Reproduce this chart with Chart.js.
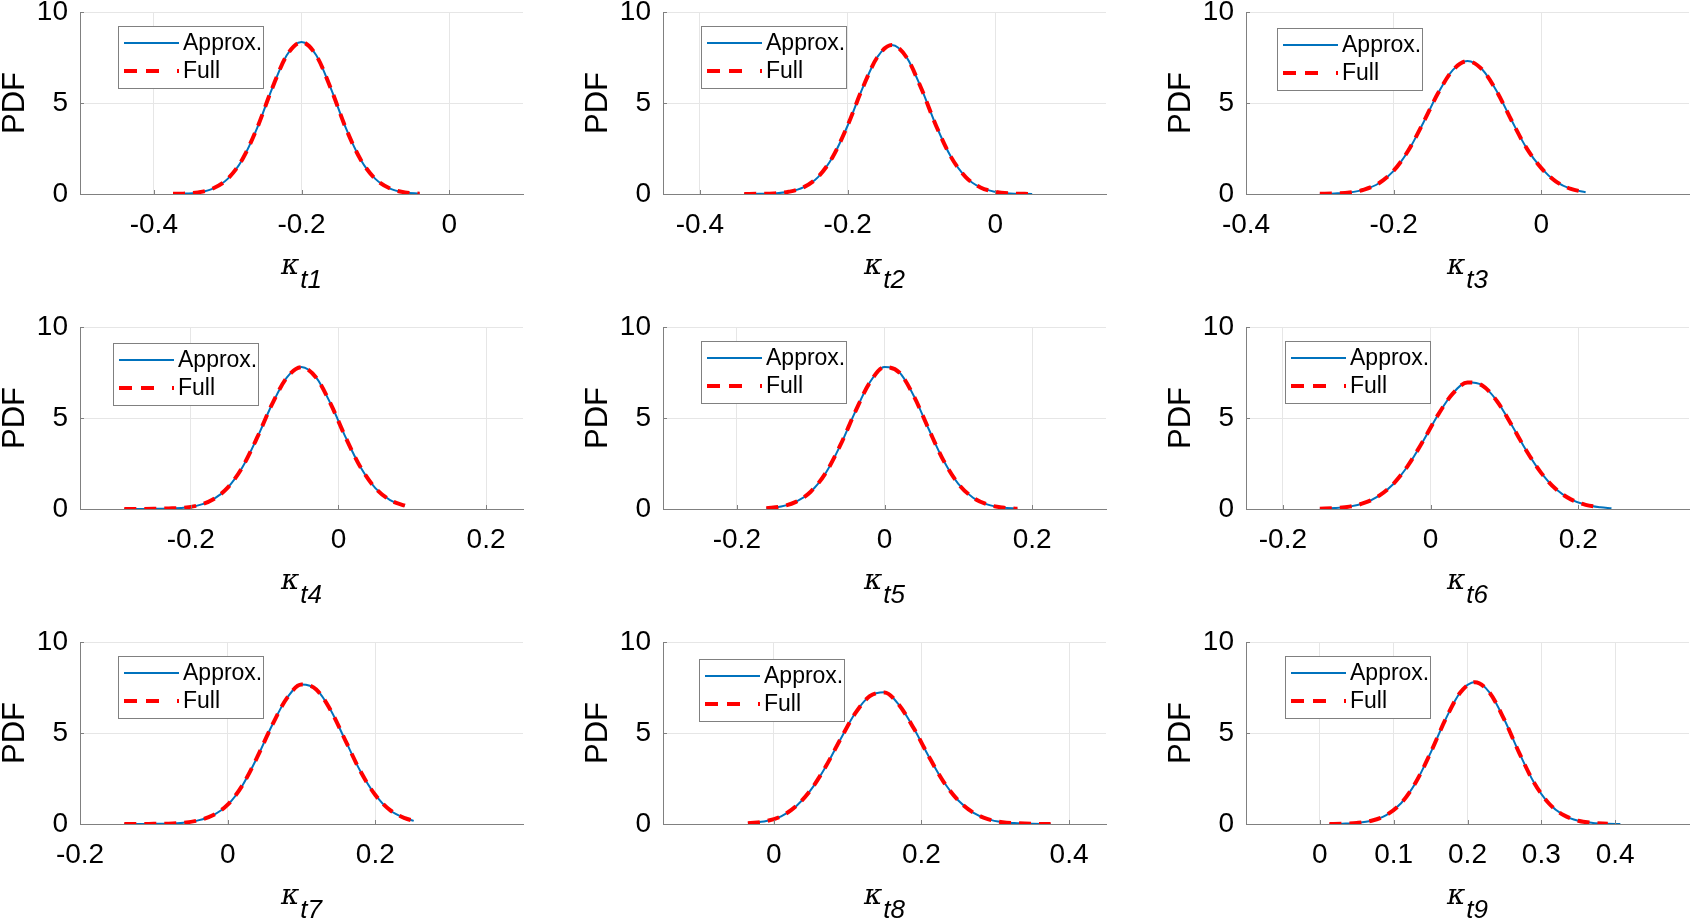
<!DOCTYPE html>
<html>
<head>
<meta charset="utf-8">
<title>PDF of kappa_t</title>
<script src="https://cdn.jsdelivr.net/npm/chart.js@4.4.1/dist/chart.umd.min.js"></script>
<style>
    html, body { margin: 0; padding: 0; background: #fff; overflow: hidden; }
    body { width: 1693px; height: 921px; position: relative; }
    canvas { position: absolute; }
</style>
</head>
<body>
<script>
// series names and axis labels
const seriesNames = ["Approx.", "Full"];
const yLabel = "PDF";
const subscripts = ["t1", "t2", "t3", "t4", "t5", "t6", "t7", "t8", "t9"];

// x limits and tick values of each panel
const xLimits = [
    [-0.5, 0.1], [-0.45, 0.15], [-0.4, 0.2],
    [-0.35, 0.25], [-0.3, 0.3], [-0.25, 0.35],
    [-0.2, 0.4], [-0.15, 0.45], [-0.1, 0.5],
];
const xTicks = [
    [-0.4, -0.2, 0], [-0.4, -0.2, 0], [-0.4, -0.2, 0],
    [-0.2, 0, 0.2], [-0.2, 0, 0.2], [-0.2, 0, 0.2],
    [-0.2, 0, 0.2], [0, 0.2, 0.4], [0, 0.1, 0.2, 0.3, 0.4],
];
const yTicks = [0, 5, 10];

// curves
const k1X = [-0.374, -0.36, -0.34, -0.32, -0.30, -0.28, -0.26, -0.24, -0.22, -0.20, -0.18, -0.16, -0.14, -0.12, -0.10, -0.08, -0.06, -0.04];
const k1Approx = [0.01, 0.02, 0.09, 0.30, 0.83, 1.90, 3.63, 5.77, 7.62, 8.35, 7.62, 5.77, 3.63, 1.90, 0.83, 0.30, 0.09, 0.02];
const k1Full = [0.01, 0.02, 0.09, 0.30, 0.83, 1.91, 3.64, 5.78, 7.61, 8.34, 7.61, 5.77, 3.62, 1.90, 0.83, 0.30, 0.09, 0.02];

const k2X = [-0.34, -0.32, -0.30, -0.28, -0.26, -0.24, -0.22, -0.20, -0.18, -0.16, -0.14, -0.12, -0.10, -0.08, -0.06, -0.04, -0.02, 0.00, 0.02, 0.04, 0.05];
const k2Approx = [0.00, 0.01, 0.03, 0.12, 0.36, 0.93, 2.04, 3.75, 5.79, 7.51, 8.19, 7.51, 5.79, 3.75, 2.04, 0.93, 0.36, 0.12, 0.03, 0.01, 0.00];
const k2Full = [0.00, 0.01, 0.03, 0.12, 0.36, 0.94, 2.05, 3.76, 5.79, 7.50, 8.18, 7.50, 5.78, 3.74, 2.04, 0.93, 0.36, 0.12, 0.03, 0.01, 0.00];

const k3X = [-0.30, -0.28, -0.26, -0.24, -0.22, -0.20, -0.18, -0.16, -0.14, -0.12, -0.10, -0.08, -0.06, -0.04, -0.02, 0.00, 0.02, 0.04, 0.06];
const k3Approx = [0.01, 0.03, 0.08, 0.24, 0.59, 1.27, 2.39, 3.90, 5.53, 6.81, 7.31, 6.84, 5.62, 4.02, 2.52, 1.42, 0.68, 0.28, 0.10];
const k3Full = [0.01, 0.03, 0.08, 0.24, 0.59, 1.28, 2.40, 3.91, 5.53, 6.80, 7.30, 6.83, 5.61, 4.01, 2.52, 1.42, 0.68, 0.28, 0.10];

const k4X = [-0.29, -0.27, -0.25, -0.23, -0.21, -0.19, -0.17, -0.15, -0.13, -0.11, -0.09, -0.07, -0.05, -0.03, -0.01, 0.01, 0.03, 0.05, 0.07, 0.09];
const k4Approx = [0.00, 0.00, 0.01, 0.03, 0.07, 0.20, 0.52, 1.17, 2.29, 3.92, 5.74, 7.22, 7.80, 7.22, 5.74, 3.92, 2.29, 1.15, 0.49, 0.18];
const k4Full = [0.00, 0.00, 0.01, 0.03, 0.07, 0.20, 0.52, 1.17, 2.30, 3.93, 5.75, 7.21, 7.79, 7.21, 5.73, 3.91, 2.29, 1.15, 0.49, 0.18];

const k5X = [-0.16, -0.14, -0.12, -0.10, -0.08, -0.06, -0.04, -0.02, 0.00, 0.02, 0.04, 0.06, 0.08, 0.10, 0.12, 0.14, 0.16, 0.18];
const k5Approx = [0.04, 0.14, 0.39, 0.94, 1.95, 3.48, 5.31, 6.95, 7.80, 7.51, 6.19, 4.38, 2.66, 1.38, 0.62, 0.24, 0.08, 0.02];
const k5Full = [0.04, 0.14, 0.39, 0.95, 1.96, 3.49, 5.31, 6.94, 7.79, 7.50, 6.18, 4.38, 2.66, 1.38, 0.62, 0.24, 0.08, 0.02];

const k6X = [-0.15, -0.13, -0.11, -0.09, -0.07, -0.05, -0.03, -0.01, 0.01, 0.03, 0.05, 0.07, 0.09, 0.11, 0.13, 0.15, 0.17, 0.19, 0.21, 0.23, 0.245];
const k6Approx = [0.02, 0.05, 0.13, 0.33, 0.72, 1.39, 2.42, 3.74, 5.17, 6.35, 6.96, 6.80, 5.93, 4.60, 3.19, 1.97, 1.08, 0.53, 0.23, 0.09, 0.04];
const k6Full = [0.02, 0.05, 0.13, 0.33, 0.72, 1.40, 2.43, 3.75, 5.17, 6.34, 6.95, 6.79, 5.92, 4.60, 3.19, 1.97, 1.08, 0.53, 0.23, 0.09, null];

const k7X = [-0.14, -0.12, -0.10, -0.08, -0.06, -0.04, -0.02, 0.00, 0.02, 0.04, 0.06, 0.08, 0.10, 0.12, 0.14, 0.16, 0.18, 0.20, 0.22, 0.24, 0.252];
const k7Approx = [0.00, 0.00, 0.01, 0.02, 0.07, 0.20, 0.48, 1.05, 2.12, 3.66, 5.41, 6.91, 7.67, 7.40, 6.22, 4.54, 2.88, 1.59, 0.76, 0.32, 0.17];
const k7Full = [0.00, 0.00, 0.01, 0.02, 0.07, 0.20, 0.48, 1.06, 2.13, 3.67, 5.41, 6.90, 7.66, 7.39, 6.21, 4.54, 2.88, 1.59, 0.76, 0.32, 0.17];

const k8X = [-0.035, -0.01, 0.01, 0.03, 0.05, 0.07, 0.09, 0.11, 0.13, 0.15, 0.17, 0.19, 0.21, 0.23, 0.25, 0.27, 0.29, 0.31, 0.33, 0.35, 0.375];
const k8Approx = [0.04, 0.16, 0.42, 0.96, 1.86, 3.12, 4.63, 6.07, 7.03, 7.24, 6.53, 5.24, 3.71, 2.32, 1.29, 0.63, 0.27, 0.10, 0.04, 0.01, 0.00];
const k8Full = [0.04, 0.16, 0.42, 0.97, 1.87, 3.13, 4.63, 6.06, 7.02, 7.23, 6.52, 5.23, 3.71, 2.32, 1.29, 0.63, 0.27, 0.10, 0.04, 0.01, 0.00];

const k9X = [0.013, 0.03, 0.05, 0.07, 0.09, 0.11, 0.13, 0.15, 0.17, 0.19, 0.21, 0.23, 0.25, 0.27, 0.29, 0.31, 0.33, 0.35, 0.37, 0.39, 0.407];
const k9Approx = [0.00, 0.02, 0.06, 0.18, 0.49, 1.14, 2.28, 3.91, 5.73, 7.22, 7.80, 7.22, 5.73, 3.91, 2.28, 1.14, 0.49, 0.18, 0.06, 0.02, 0.00];
const k9Full = [0.00, 0.02, 0.06, 0.18, 0.49, 1.14, 2.29, 3.92, 5.73, 7.21, 7.79, 7.21, 5.72, 3.91, 2.28, 1.14, 0.49, 0.18, 0.06, 0.02, null];

const allX = [k1X, k2X, k3X, k4X, k5X, k6X, k7X, k8X, k9X];
const allApprox = [k1Approx, k2Approx, k3Approx, k4Approx, k5Approx, k6Approx, k7Approx, k8Approx, k9Approx];
const allFull = [k1Full, k2Full, k3Full, k4Full, k5Full, k6Full, k7Full, k8Full, k9Full];

// layout
const plotLeft = [80, 663, 1246];
const plotTop = [12, 327, 642];
const yAxisWidth = 80;
const canvasW = 530;
const canvasH = 315;
const plotW = 443;
const plotH = 182;
// legend box offset from the top-left corner of each plot
const legendOffset = [
    [38, 14], [38, 14], [31, 16],
    [33, 16], [38, 14], [39, 14],
    [38, 14], [36, 17], [39, 14],
];

const blue = "#0072BD";
const red = "#FF0000";
const axisColor = "#808080";
const gridColor = "#e6e6e6";
const sans = '"Liberation Sans", Arial, Helvetica, sans-serif';

// draws the boxed legend, axis titles and the small inward ticks
const panelDecor = {
    id: "panelDecor",
    afterDraw(chart, args, opts) {
        const { ctx, chartArea: a, scales } = chart;
        ctx.save();

        // inward tick marks
        ctx.strokeStyle = axisColor;
        ctx.lineWidth = 1;
        scales.x.ticks.forEach((t) => {
            const px = Math.round(scales.x.getPixelForValue(t.value)) + 0.5;
            ctx.beginPath();
            ctx.moveTo(px, a.bottom);
            ctx.lineTo(px, a.bottom - 4);
            ctx.stroke();
        });
        scales.y.ticks.forEach((t) => {
            const py = Math.round(scales.y.getPixelForValue(t.value)) + 0.5;
            ctx.beginPath();
            ctx.moveTo(a.left, py);
            ctx.lineTo(a.left + 4, py);
            ctx.stroke();
        });

        // legend
        const lx = a.left + opts.dx;
        const ly = a.top + opts.dy;
        ctx.fillStyle = "#fff";
        ctx.fillRect(lx, ly, 145, 62);
        ctx.strokeStyle = axisColor;
        ctx.lineWidth = 1;
        ctx.strokeRect(lx + 0.5, ly + 0.5, 145, 62);

        ctx.lineWidth = 2;
        ctx.strokeStyle = blue;
        ctx.beginPath();
        ctx.moveTo(lx + 6, ly + 17);
        ctx.lineTo(lx + 61, ly + 17);
        ctx.stroke();

        // dash, dash, dot like the reference legend sample
        ctx.lineWidth = 4;
        ctx.strokeStyle = red;
        ctx.setLineDash([13, 9, 13, 18, 2, 100]);
        ctx.beginPath();
        ctx.moveTo(lx + 6, ly + 45);
        ctx.lineTo(lx + 61, ly + 45);
        ctx.stroke();
        ctx.setLineDash([]);

        ctx.fillStyle = "#000";
        ctx.font = "23px " + sans;
        ctx.textAlign = "left";
        ctx.textBaseline = "middle";
        ctx.fillText(seriesNames[0], lx + 65, ly + 18);
        ctx.fillText(seriesNames[1], lx + 65, ly + 46);

        // y title
        ctx.save();
        ctx.font = "31px " + sans;
        ctx.textAlign = "center";
        ctx.textBaseline = "alphabetic";
        ctx.translate(a.left - 56, (a.top + a.bottom) / 2);
        ctx.rotate(-Math.PI / 2);
        ctx.fillText(yLabel, 0, 0);
        ctx.restore();

        // x title: kappa with italic subscript
        ctx.textAlign = "left";
        ctx.textBaseline = "alphabetic";
        const kFont = 'italic 28px "DejaVu Serif", serif';
        const subFont = "italic 26px " + sans;
        ctx.font = kFont;
        const wk = ctx.measureText("\u03BA").width;
        ctx.font = subFont;
        const ws = ctx.measureText(opts.sub).width;
        const x0 = (a.left + a.right) / 2 - (wk + 1 + ws) / 2;
        ctx.font = kFont;
        ctx.fillText("\u03BA", x0, a.bottom + 80);
        ctx.font = subFont;
        ctx.fillText(opts.sub, x0 + wk + 1, a.bottom + 94);

        ctx.restore();
    },
};

function fmt(v) {
    return String(Number(v.toFixed(2)));
}

for (let i = 0; i < 9; i++) {
    const col = i % 3;
    const row = Math.floor(i / 3);
    const canvas = document.createElement("canvas");
    canvas.width = canvasW;
    canvas.height = canvasH;
    canvas.style.left = plotLeft[col] - yAxisWidth + "px";
    canvas.style.top = plotTop[row] - 12 + "px";
    document.body.appendChild(canvas);

    const xs = allX[i];
    const approxPts = xs.map((x, j) => ({ x: x, y: allApprox[i][j] }));
    const fullPts = xs.map((x, j) => ({ x: x, y: allFull[i][j] }));
    const tickVals = xTicks[i];

    new Chart(canvas.getContext("2d"), {
        type: "line",
        data: {
            datasets: [
                {
                    label: seriesNames[0],
                    data: approxPts,
                    borderColor: blue,
                    borderWidth: 2,
                    pointRadius: 0,
                    cubicInterpolationMode: "monotone",
                    fill: false,
                    order: 1,
                },
                {
                    label: seriesNames[1],
                    data: fullPts,
                    borderColor: red,
                    borderWidth: 4,
                    borderDash: [12, 8],
                    pointRadius: 0,
                    cubicInterpolationMode: "monotone",
                    fill: false,
                    order: 0,
                },
            ],
        },
        options: {
            responsive: false,
            animation: false,
            events: [],
            layout: {
                padding: { left: 0, top: 12, right: canvasW - yAxisWidth - plotW, bottom: 0 },
            },
            scales: {
                x: {
                    type: "linear",
                    min: xLimits[i][0],
                    max: xLimits[i][1],
                    afterBuildTicks: (s) => {
                        s.ticks = tickVals.map((v) => ({ value: v }));
                    },
                    afterFit: (s) => {
                        s.height = canvasH - 12 - plotH;
                        s.paddingLeft = 0;
                        s.paddingRight = 0;
                    },
                    grid: { color: gridColor, drawTicks: false },
                    border: { color: axisColor, width: 1 },
                    ticks: {
                        padding: 14,
                        maxRotation: 0,
                        autoSkip: false,
                        color: "#000",
                        font: { size: 28, family: sans },
                        callback: (v) => fmt(v),
                    },
                },
                y: {
                    min: 0,
                    max: 10,
                    afterBuildTicks: (s) => {
                        s.ticks = yTicks.map((v) => ({ value: v }));
                    },
                    afterFit: (s) => {
                        s.width = yAxisWidth;
                        s.paddingTop = 0;
                        s.paddingBottom = 0;
                    },
                    grid: { color: gridColor, drawTicks: false },
                    border: { color: axisColor, width: 1 },
                    ticks: {
                        padding: 12,
                        color: "#000",
                        font: { size: 28, family: sans },
                        callback: (v) => fmt(v),
                    },
                },
            },
            plugins: {
                legend: { display: false },
                tooltip: { enabled: false },
                panelDecor: {
                    dx: legendOffset[i][0],
                    dy: legendOffset[i][1],
                    sub: subscripts[i],
                },
            },
        },
        plugins: [panelDecor],
    });
}
</script>
</body>
</html>
